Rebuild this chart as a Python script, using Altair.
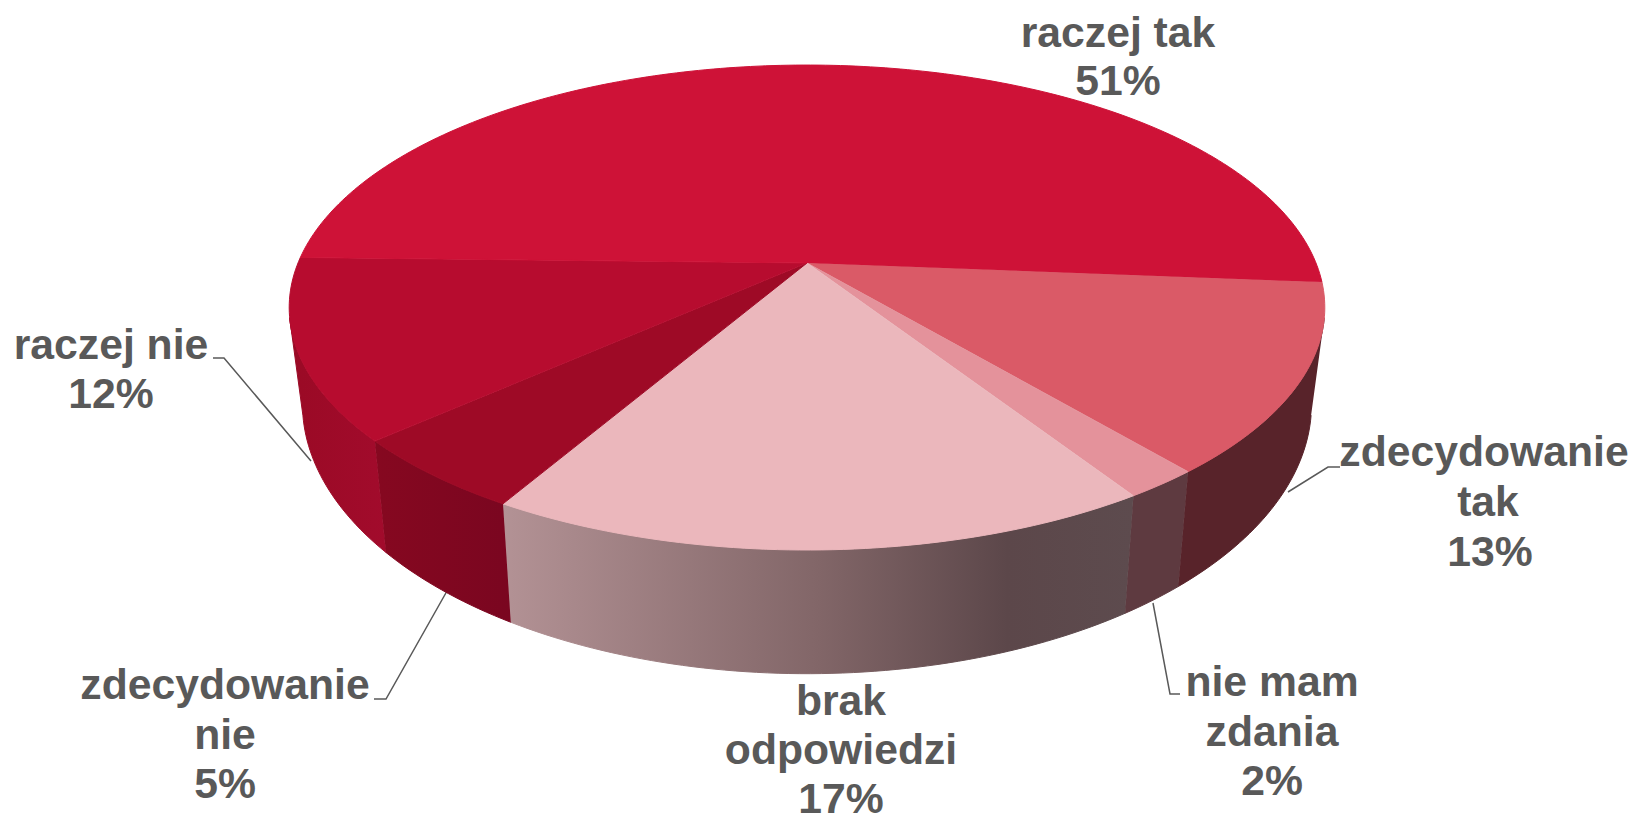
import math
import altair as alt
import pandas as pd

# --- values -----------------------------------------------------------
categories = ["zdecydowanie tak", "nie mam zdania", "brak odpowiedzi",
              "zdecydowanie nie", "raczej nie", "raczej tak"]
shares = [12.6, 2.0, 17.5, 5.0, 12.0, 50.9]
top_colors = ["#DA5A67", "#E4929B", "#EBB7BC", "#9E0A26", "#B70C2F", "#CE1237"]
side_stops = [
    [(0, "#58232A"), (1, "#58232A")],
    [(0, "#5E3A40"), (1, "#5E3A40")],
    [(0, "#B39295"), (0.5, "#826668"), (0.8, "#5C474A"), (1, "#5D4B4E")],
    [(0, "#860820"), (1, "#7A0620")],
    [(0, "#9A0A25"), (1, "#A20B2C")],
]
label_lines = ["raczej tak", "51%", "raczej nie", "12%", "zdecydowanie", "nie", "5%",
               "brak", "odpowiedzi", "17%", "nie mam", "zdania", "2%",
               "zdecydowanie", "tak", "13%"]
label_x = [1118, 1118, 111, 111, 225, 225, 225, 841, 841, 841, 1272, 1272, 1272, 1484, 1488, 1490]
label_y = [47, 95, 359, 408, 699, 749, 798, 715, 764, 813, 696, 746, 795, 466, 516, 566]
leader_x = [[213, 224, 311], [374, 386, 447], [1340, 1328, 1288], [1180, 1170, 1153]]
leader_y = [[358, 358, 461], [699, 699, 591], [467, 467, 492], [694, 694, 603]]

# --- perspective pie geometry ----------------------------------------
START = 4.6
K = 0.1836
CX = 807
TOP = dict(r=509, b=234.3, cy=263)
BOT = dict(r=496, b=261.0, cy=354)
SIDE_LIMIT_R = 13.0
SIDE_LIMIT_L = 167.0
W, H = 1620, 808


def project(t, face):
    a = math.radians(t)
    c, s = math.cos(a), math.sin(a)
    d = 1 - K * s
    return CX + face["r"] * c / d, face["cy"] + face["b"] * s / d


def arc(t0, t1, face, step=1.0):
    n = max(2, int(abs(t1 - t0) / step) + 1)
    return [project(t0 + (t1 - t0) * i / (n - 1), face) for i in range(n)]


def frame(points):
    return pd.DataFrame([{"x": p[0], "y": p[1], "i": i} for i, p in enumerate(points)])


x_enc = alt.X("x:Q", axis=None, scale=alt.Scale(domain=[8, 8 + W], nice=False, zero=False))
y_enc = alt.Y("y:Q", axis=None, scale=alt.Scale(domain=[8 + H, 8], nice=False, zero=False))
order = alt.Order("i:Q")


def polygon(points, fill):
    return alt.Chart(frame(points)).mark_line(
        fill=fill, stroke=fill, strokeWidth=1, interpolate="linear"
    ).encode(x=x_enc, y=y_enc, order=order)


edges = [START]
for v in shares:
    edges.append(edges[-1] + v * 3.6)

layers = []

# leader lines
for lx, ly in zip(leader_x, leader_y):
    layers.append(
        alt.Chart(frame(list(zip(lx, ly)))).mark_line(color="#595959", strokeWidth=1.5).encode(
            x=x_enc, y=y_enc, order=order))

# side walls (front half only)
for k in range(5):
    t0 = max(edges[k], SIDE_LIMIT_R)
    t1 = min(edges[k + 1], SIDE_LIMIT_L)
    pts = arc(t0, t1, TOP) + arc(t1, t0, BOT)
    grad = alt.LinearGradient(
        gradient="linear", x1=0, x2=1, y1=0, y2=0,
        stops=[alt.GradientStop(offset=o, color=c) for o, c in side_stops[k]])
    layers.append(polygon(pts, grad))

# top faces
apex = (CX, TOP["cy"])
for k in range(6):
    pts = [apex] + arc(edges[k], edges[k + 1], TOP)
    layers.append(polygon(pts, top_colors[k]))

# labels
labels = pd.DataFrame({"t": label_lines, "x": label_x, "y": label_y})
layers.append(
    alt.Chart(labels).mark_text(
        font="Liberation Sans", fontWeight="bold", fontSize=42.7, color="#595959",
        align="center", baseline="alphabetic").encode(x=x_enc, y=y_enc, text="t:N"))

chart = alt.layer(*layers).properties(
    width=W, height=H, padding=0,
    autosize=alt.AutoSizeParams(type="none"),
    background="white",
).configure_view(stroke=None)

chart.save("out.html", embed_options={"renderer": "svg", "actions": False})
